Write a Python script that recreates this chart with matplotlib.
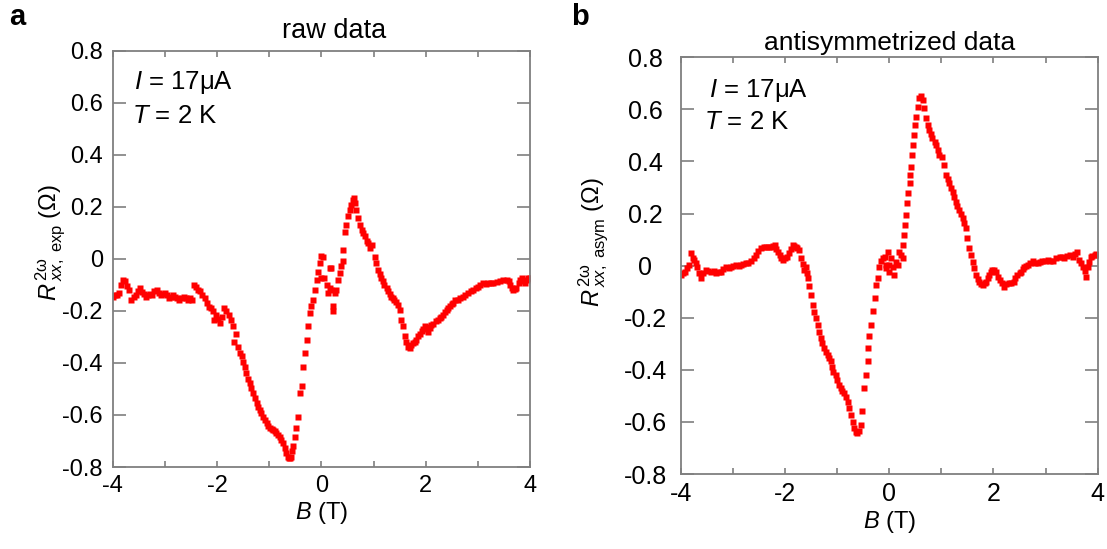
import matplotlib
matplotlib.use("Agg")
import matplotlib.pyplot as plt
from matplotlib.ticker import FixedLocator

plt.rcParams['font.family'] = ['Liberation Sans', 'DejaVu Sans']
plt.rcParams['mathtext.fontset'] = 'custom'
plt.rcParams['mathtext.rm'] = 'Liberation Sans'
plt.rcParams['mathtext.it'] = 'Liberation Sans:italic'
plt.rcParams['mathtext.bf'] = 'Liberation Sans:bold'
plt.rcParams['axes.unicode_minus'] = False

# ---------------- data: panel a (raw) ----------------
B_raw = [-4.00, -3.96, -3.92, -3.88, -3.84, -3.80, -3.76, -3.72, -3.68, -3.64,
         -3.60, -3.56, -3.52, -3.48, -3.44, -3.40, -3.36, -3.32, -3.28, -3.24,
         -3.20, -3.16, -3.12, -3.08, -3.04, -3.00, -2.96, -2.92, -2.88, -2.84,
         -2.80, -2.76, -2.72, -2.68, -2.64, -2.60, -2.56, -2.52, -2.48, -2.44,
         -2.40, -2.36, -2.32, -2.28, -2.24, -2.20, -2.16, -2.12, -2.08, -2.05,
         -2.02, -1.98, -1.94, -1.90, -1.86, -1.82, -1.78, -1.74, -1.70, -1.67,
         -1.64, -1.60, -1.56, -1.53, -1.50, -1.47, -1.44, -1.40, -1.37, -1.34,
         -1.31, -1.28, -1.24, -1.21, -1.18, -1.15, -1.12, -1.08, -1.05, -1.02,
         -0.99, -0.95, -0.92, -0.89, -0.86, -0.83, -0.80, -0.77, -0.73, -0.70,
         -0.67, -0.64, -0.62, -0.60, -0.58, -0.56, -0.54, -0.51, -0.48, -0.44,
         -0.41, -0.38, -0.35, -0.32, -0.28, -0.25, -0.22, -0.19, -0.16, -0.13,
         -0.09, -0.06, -0.03, 0.00, 0.03, 0.00, 0.06, 0.10, 0.13, 0.16,
         0.19, 0.16, 0.19, 0.22, 0.23, 0.26, 0.29, 0.32, 0.35, 0.38,
         0.415, 0.42, 0.45, 0.48, 0.51, 0.54, 0.575, 0.61, 0.63, 0.64,
         0.67, 0.70, 0.735, 0.77, 0.80, 0.83, 0.87, 0.89, 0.93, 0.965,
         1.02, 1.05, 1.09, 1.12, 1.15, 1.18, 1.21, 1.25, 1.28, 1.31,
         1.34, 1.37, 1.40, 1.44, 1.47, 1.50, 1.53, 1.56, 1.60, 1.63,
         1.66, 1.69, 1.72, 1.76, 1.79, 1.82, 1.85, 1.89, 1.92, 1.95,
         1.98, 2.02, 2.04, 2.08, 2.11, 2.15, 2.19, 2.23, 2.27, 2.30,
         2.33, 2.37, 2.40, 2.43, 2.47, 2.50, 2.53, 2.57, 2.62, 2.66,
         2.72, 2.76, 2.82, 2.86, 2.91, 2.96, 3.01, 3.05, 3.10, 3.15,
         3.20, 3.25, 3.30, 3.36, 3.42, 3.49, 3.55, 3.59, 3.62, 3.65,
         3.68, 3.71, 3.74, 3.78, 3.81, 3.84, 3.87, 3.90, 3.94, 3.97,
         4.00]
R_raw = [-0.145, -0.140, -0.138, -0.130, -0.100, -0.081, -0.087, -0.105, -0.120, -0.157,
         -0.148, -0.140, -0.125, -0.113, -0.128, -0.135, -0.145, -0.140, -0.135, -0.138,
         -0.125, -0.119, -0.130, -0.138, -0.135, -0.132, -0.140, -0.150, -0.148, -0.140,
         -0.145, -0.150, -0.157, -0.150, -0.145, -0.150, -0.157, -0.150, -0.157, -0.100,
         -0.110, -0.119, -0.125, -0.138, -0.150, -0.170, -0.185, -0.190, -0.200, -0.234,
         -0.215, -0.230, -0.245, -0.225, -0.190, -0.200, -0.215, -0.234, -0.260, -0.320,
         -0.290, -0.337, -0.360, -0.375, -0.395, -0.414, -0.440, -0.460, -0.478, -0.497,
         -0.516, -0.535, -0.555, -0.568, -0.580, -0.593, -0.606, -0.620, -0.632, -0.642,
         -0.651, -0.655, -0.657, -0.663, -0.670, -0.676, -0.683, -0.695, -0.708, -0.727,
         -0.747, -0.760, -0.766, -0.765, -0.760, -0.740, -0.721, -0.683, -0.650, -0.606,
         -0.516, -0.490, -0.414, -0.362, -0.311, -0.260, -0.209, -0.180, -0.157, -0.120,
         -0.081, -0.049, -0.017, 0.010, 0.009, -0.074, -0.074, -0.100, -0.132, -0.036,
         -0.036, -0.113, -0.119, -0.183, -0.202, -0.132, -0.119, -0.081, -0.055, -0.029,
         -0.010, 0.035, 0.105, 0.130, 0.163, 0.188, 0.208, 0.225, 0.235, 0.215,
         0.188, 0.156, 0.130, 0.111, 0.098, 0.086, 0.070, 0.060, 0.041, 0.054,
         0.009, -0.017, -0.042, -0.060, -0.074, -0.087, -0.100, -0.112, -0.125, -0.135,
         -0.145, -0.150, -0.157, -0.165, -0.176, -0.196, -0.234, -0.260, -0.298, -0.318,
         -0.337, -0.343, -0.330, -0.325, -0.318, -0.310, -0.298, -0.290, -0.279, -0.270,
         -0.260, -0.262, -0.280, -0.265, -0.255, -0.250, -0.240, -0.234, -0.228, -0.222,
         -0.215, -0.205, -0.196, -0.190, -0.183, -0.175, -0.168, -0.160, -0.157, -0.151,
         -0.145, -0.138, -0.132, -0.125, -0.119, -0.113, -0.109, -0.102, -0.093, -0.095,
         -0.093, -0.092, -0.093, -0.090, -0.087, -0.083, -0.080, -0.087, -0.100, -0.113,
         -0.119, -0.115, -0.113, -0.093, -0.081, -0.074, -0.087, -0.093, -0.080, -0.074,
         -0.074]

# ---------------- data: panel b (antisymmetrized) ----------------
B_asym = [-4.00, -3.96, -3.92, -3.88, -3.84, -3.80, -3.77, -3.74, -3.71, -3.68,
          -3.64, -3.61, -3.57, -3.52, -3.47, -3.42, -3.37, -3.32, -3.27, -3.23,
          -3.18, -3.13, -3.08, -3.04, -2.99, -2.94, -2.89, -2.84, -2.80, -2.75,
          -2.70, -2.65, -2.60, -2.56, -2.51, -2.46, -2.41, -2.36, -2.31, -2.27,
          -2.23, -2.20, -2.17, -2.14, -2.10, -2.07, -2.04, -2.00, -1.96, -1.92,
          -1.88, -1.85, -1.82, -1.79, -1.76, -1.73, -1.69, -1.66, -1.63, -1.60,
          -1.58, -1.56, -1.53, -1.50, -1.47, -1.44, -1.41, -1.37, -1.34, -1.31,
          -1.28, -1.25, -1.21, -1.18, -1.15, -1.12, -1.09, -1.07, -1.03, -1.00,
          -0.96, -0.93, -0.90, -0.87, -0.83, -0.80, -0.77, -0.74, -0.70, -0.67,
          -0.64, -0.61, -0.58, -0.55, -0.52, -0.48, -0.45, -0.41, -0.40, -0.38,
          -0.35, -0.32, -0.28, -0.25, -0.22, -0.19, -0.16, -0.12, -0.09, -0.06,
          -0.06, -0.03, 0.00, 0.00, 0.03, 0.07, 0.10, 0.13, 0.16, 0.19,
          0.22, 0.26, 0.26, 0.29, 0.31, 0.32, 0.34, 0.36, 0.39, 0.40,
          0.42, 0.44, 0.45, 0.48, 0.50, 0.52, 0.55, 0.58, 0.61, 0.64,
          0.67, 0.71, 0.74, 0.77, 0.80, 0.83, 0.87, 0.90, 0.93, 0.96,
          1.02, 1.06, 1.09, 1.12, 1.15, 1.19, 1.22, 1.25, 1.28, 1.31,
          1.34, 1.38, 1.41, 1.44, 1.47, 1.50, 1.53, 1.57, 1.60, 1.63,
          1.67, 1.70, 1.73, 1.76, 1.79, 1.83, 1.86, 1.89, 1.92, 1.95,
          1.98, 2.02, 2.05, 2.08, 2.12, 2.17, 2.21, 2.25, 2.30, 2.34,
          2.39, 2.42, 2.46, 2.50, 2.53, 2.56, 2.59, 2.63, 2.66, 2.70,
          2.75, 2.80, 2.85, 2.90, 2.94, 2.99, 3.04, 3.09, 3.14, 3.20,
          3.27, 3.31, 3.36, 3.41, 3.46, 3.52, 3.56, 3.61, 3.65, 3.68,
          3.71, 3.75, 3.78, 3.81, 3.84, 3.87, 3.90, 3.94, 3.97, 4.00]
R_asym = [-0.036, -0.030, -0.025, -0.010, 0.003, 0.047, 0.030, 0.022, 0.010, -0.004,
          -0.030, -0.048, -0.030, -0.016, -0.020, -0.023, -0.020, -0.029, -0.025, -0.023,
          -0.012, -0.004, -0.008, -0.004, 0.000, 0.003, -0.002, 0.003, 0.006, 0.009,
          0.012, 0.016, 0.030, 0.041, 0.055, 0.066, 0.070, 0.073, 0.070, 0.073,
          0.076, 0.079, 0.065, 0.054, 0.040, 0.028, 0.022, 0.028, 0.035, 0.047,
          0.065, 0.079, 0.076, 0.073, 0.068, 0.060, 0.028, 0.005, -0.016, -0.004,
          -0.030, -0.048, -0.080, -0.112, -0.151, -0.178, -0.202, -0.227, -0.253, -0.279,
          -0.298, -0.317, -0.330, -0.343, -0.355, -0.368, -0.390, -0.407, -0.420, -0.440,
          -0.458, -0.471, -0.480, -0.490, -0.505, -0.522, -0.548, -0.573, -0.600, -0.625,
          -0.640, -0.644, -0.635, -0.612, -0.560, -0.471, -0.420, -0.368, -0.317, -0.272,
          -0.227, -0.176, -0.125, -0.074, -0.048, -0.004, 0.016, 0.030, 0.035, -0.010,
          0.003, 0.054, -0.023, 0.003, 0.028, -0.004, -0.035, 0.015, 0.003, 0.054,
          0.041, 0.028, 0.079, 0.118, 0.156, 0.195, 0.239, 0.278, 0.316, 0.348,
          0.380, 0.425, 0.463, 0.502, 0.540, 0.572, 0.611, 0.643, 0.650, 0.637,
          0.605, 0.566, 0.540, 0.521, 0.505, 0.489, 0.476, 0.464, 0.445, 0.425,
          0.418, 0.387, 0.348, 0.332, 0.316, 0.300, 0.284, 0.265, 0.246, 0.230,
          0.214, 0.198, 0.182, 0.162, 0.143, 0.105, 0.066, 0.041, 0.015, -0.010,
          -0.035, -0.050, -0.061, -0.070, -0.074, -0.068, -0.061, -0.048, -0.035, -0.023,
          -0.016, -0.016, -0.025, -0.042, -0.055, -0.068, -0.081, -0.072, -0.068, -0.065,
          -0.061, -0.048, -0.035, -0.030, -0.023, -0.012, -0.004, 0.000, 0.003, 0.010,
          0.016, 0.012, 0.009, 0.013, 0.016, 0.019, 0.022, 0.019, 0.016, 0.028,
          0.035, 0.033, 0.031, 0.036, 0.041, 0.035, 0.045, 0.054, 0.022, 0.010,
          -0.004, -0.020, -0.042, -0.004, 0.015, 0.035, 0.038, 0.041, 0.043, 0.041]

# ---------------- tick labels and texts ----------------
x_major = [-4, -2, 0, 2, 4]
x_major_labels = ['-4', '-2', '0', '2', '4']
x_minor = [-3, -1, 1, 3]
y_major = [-0.8, -0.6, -0.4, -0.2, 0.0, 0.2, 0.4, 0.6, 0.8]
y_major_labels = ['-0.8', '-0.6', '-0.4', '-0.2', '0', '0.2', '0.4', '0.6', '0.8']
titles = ['raw data', 'antisymmetrized data']
panel_letters = ['a', 'b']
ylabels = [r'$R\,^{\mathrm{2ω}}_{xx,\ \mathrm{exp}}$ (Ω)', r'$R\,^{\mathrm{2ω}}_{xx,\ \mathrm{asym}}$ (Ω)']
xlabel = r'$B$ (T)'
note1 = r'$I$ = 17μA'
note2 = r'$T$ = 2 K'

W, H = 1107, 549
fig = plt.figure(figsize=(W / 100, H / 100), dpi=100)

def px_rect(x0, y0, x1, y1):
    return [x0 / W, 1 - y1 / H, (x1 - x0) / W, (y1 - y0) / H]

ax1 = fig.add_axes(px_rect(112.7, 50.7, 530.0, 467.0))
ax2 = fig.add_axes(px_rect(680.7, 57.3, 1097.7, 474.0))

spine_col = '#7f7f7f'
red = '#ff0000'

for ax, B, R, fs in ((ax1, B_raw, R_raw, 17), (ax2, B_asym, R_asym, 18)):
    ax.plot(B, R, linestyle='none', marker='s', ms=4.1, mfc=red, mec='none', clip_on=True)
    ax.set_xlim(-4, 4)
    ax.set_ylim(-0.8, 0.8)
    ax.xaxis.set_major_locator(FixedLocator(x_major))
    ax.set_xticklabels(x_major_labels)
    ax.xaxis.set_minor_locator(FixedLocator(x_minor))
    ax.yaxis.set_major_locator(FixedLocator(y_major))
    ax.set_yticklabels(y_major_labels)
    for s in ax.spines.values():
        s.set_color(spine_col)
        s.set_linewidth(1.3)
    ax.tick_params(axis='both', which='both', direction='in', top=True, right=True,
                   color=spine_col, width=1.2, labelsize=fs, labelcolor='black')
    ax.tick_params(axis='x', which='both', length=4.5, pad=6)
    ax.tick_params(axis='y', which='major', length=9.5)

ax1.tick_params(axis='y', pad=7)
ax2.tick_params(axis='y', pad=25.5)
for lab in ax2.get_yticklabels():
    lab.set_horizontalalignment('center')

ax1.set_title(titles[0], fontsize=19.5, pad=9, x=0.53)
ax2.set_title(titles[1], fontsize=19, pad=5)

ax1.set_xlabel(xlabel, fontsize=17, labelpad=2)
ax2.set_xlabel(xlabel, fontsize=17, labelpad=2)

fig.text(51 / W, 1 - 243 / H, ylabels[0], rotation=90, ha='center', va='center', fontsize=17)
fig.text(594 / W, 1 - 242 / H, ylabels[1], rotation=90, ha='center', va='center', fontsize=17)

fig.text(9 / W, 1 - 17 / H, panel_letters[0], fontsize=21, fontweight='bold', ha='left', va='center')
fig.text(571 / W, 1 - 17 / H, panel_letters[1], fontsize=21, fontweight='bold', ha='left', va='center')

fig.text(134 / W, 1 - 82 / H, note1, fontsize=18.5, ha='left', va='center')
fig.text(132 / W, 1 - 116 / H, note2, fontsize=18.5, ha='left', va='center')
fig.text(709 / W, 1 - 90 / H, note1, fontsize=18.5, ha='left', va='center')
fig.text(704 / W, 1 - 122 / H, note2, fontsize=18.5, ha='left', va='center')

fig.savefig('out.png', dpi=100)
